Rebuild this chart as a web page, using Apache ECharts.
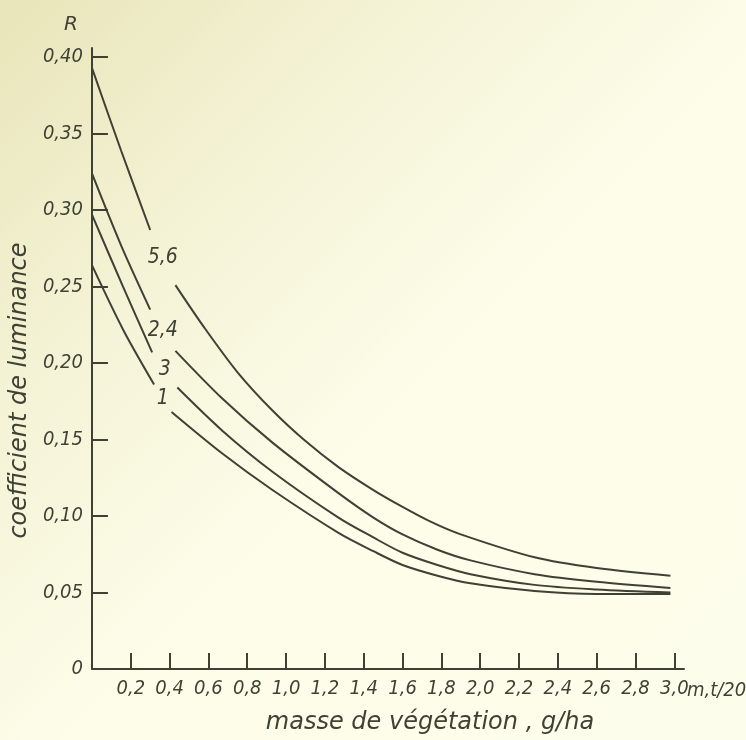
<!DOCTYPE html>
<html>
<head>
<meta charset="utf-8">
<script src="https://cdn.jsdelivr.net/npm/echarts@6/dist/echarts.min.js"></script>
<style>
  html, body { margin: 0; padding: 0; }
  #chart { width: 746px; height: 740px; }
</style>
</head>
<body>
<div id="chart"></div>
<script>
// curves: [masse, R], null = gap where the label sits
var curve56 = [[0, 0.393], [0.15, 0.339], [0.30, 0.287], null,
  [0.43, 0.251], [0.58, 0.223], [0.75, 0.194], [0.93, 0.169], [1.10, 0.149], [1.27, 0.132],
  [1.45, 0.117], [1.60, 0.106], [1.75, 0.096], [1.90, 0.088], [2.28, 0.073], [2.60, 0.066], [2.98, 0.061]];
var curve24 = [[0, 0.324], [0.15, 0.277], [0.30, 0.235], null,
  [0.43, 0.208], [0.67, 0.177], [0.93, 0.148], [1.27, 0.115], [1.45, 0.099], [1.60, 0.088],
  [1.78, 0.078], [1.95, 0.071], [2.28, 0.062], [2.60, 0.057], [2.98, 0.053]];
var curve3 = [[0, 0.297], [0.16, 0.250], [0.31, 0.207], null,
  [0.44, 0.184], [0.67, 0.156], [0.93, 0.129], [1.27, 0.099], [1.45, 0.086], [1.60, 0.076],
  [1.78, 0.068], [1.95, 0.062], [2.28, 0.055], [2.60, 0.052], [2.98, 0.050]];
var curve1 = [[0, 0.264], [0.16, 0.222], [0.32, 0.186], null,
  [0.41, 0.168], [0.67, 0.141], [0.93, 0.117], [1.27, 0.089], [1.45, 0.077], [1.60, 0.068],
  [1.78, 0.061], [1.95, 0.056], [2.28, 0.051], [2.60, 0.049], [2.98, 0.049]];
var curveNames = ['5,6', '2,4', '3', '1'];

var xTicks = [0.2, 0.4, 0.6, 0.8, 1.0, 1.2, 1.4, 1.6, 1.8, 2.0, 2.2, 2.4, 2.6, 2.8, 3.0];
var yTicks = [0, 0.05, 0.10, 0.15, 0.20, 0.25, 0.30, 0.35, 0.40];

var ink = '#3f4135';
var labelFont = "'Liberation Sans Narrow', 'DejaVu Sans Condensed', sans-serif";

function comma(v, d) {
  return v.toFixed(d).replace('.', ',');
}

// label goes in the middle of the gap
function gapMid(data) {
  var i = data.indexOf(null);
  var a = data[i - 1], b = data[i + 1];
  return [(a[0] + b[0]) / 2, (a[1] + b[1]) / 2];
}

var series = [curve56, curve24, curve3, curve1].map(function (d, k) {
  return {
    name: curveNames[k],
    type: 'line',
    data: d,
    smooth: 0.3,
    connectNulls: false,
    symbol: 'none',
    lineStyle: { color: ink, width: 2 },
    markPoint: {
      symbol: 'circle',
      symbolSize: 0,
      label: {
        show: true,
        formatter: curveNames[k],
        color: ink,
        fontFamily: labelFont,
        fontStyle: 'italic',
        fontSize: 21
      },
      data: [{ coord: gapMid(d) }]
    }
  };
});

var myChart = echarts.init(document.getElementById('chart'));
myChart.setOption({
  animation: false,
  backgroundColor: {
    type: 'linear', x: 0, y: 0, x2: 1, y2: 1,
    colorStops: [
      { offset: 0, color: '#e8e5b9' },
      { offset: 0.3, color: '#f5f4d8' },
      { offset: 0.55, color: '#fdfdea' },
      { offset: 1, color: '#fdfdeb' }
    ]
  },
  grid: { left: 89, right: 62, top: 48, bottom: 69 },
  xAxis: {
    type: 'value',
    min: 0,
    max: 3.05,
    name: 'masse de végétation , g/ha',
    nameLocation: 'middle',
    nameGap: 42,
    nameTextStyle: {
      color: ink, fontFamily: 'DejaVu Sans', fontStyle: 'italic', fontSize: 24,
      padding: [0, 0, 0, 84]
    },
    axisLine: { lineStyle: { color: ink, width: 2 } },
    axisTick: { inside: true, length: 16, customValues: xTicks, lineStyle: { color: ink, width: 2 } },
    splitLine: { show: false },
    axisLabel: {
      margin: 10,
      color: ink,
      fontFamily: labelFont,
      fontStyle: 'italic',
      fontSize: 20,
      customValues: xTicks,
      formatter: function (v) { return comma(v, 1); }
    }
  },
  yAxis: {
    type: 'value',
    min: 0,
    max: 0.406,
    name: 'coefficient de luminance',
    nameLocation: 'middle',
    nameGap: 58,
    nameTextStyle: {
      color: ink, fontFamily: 'DejaVu Sans', fontStyle: 'italic', fontSize: 24,
      padding: [0, 64, 0, 0]
    },
    axisLine: { show: true, lineStyle: { color: ink, width: 2 } },
    axisTick: { show: true, inside: true, length: 16, customValues: yTicks, lineStyle: { color: ink, width: 2 } },
    splitLine: { show: false },
    axisLabel: {
      margin: 9,
      color: ink,
      fontFamily: labelFont,
      fontStyle: 'italic',
      fontSize: 20,
      customValues: yTicks,
      formatter: function (v) { return v === 0 ? '0' : comma(v, 2); }
    }
  },
  graphic: [
    {
      type: 'text', left: 64, top: 15,
      style: { text: 'R', fill: ink, font: "italic 20px 'DejaVu Sans'" }
    },
    {
      type: 'text', left: 687, top: 681,
      style: { text: 'm,t/20', fill: ink, font: "italic 20px " + labelFont }
    }
  ],
  series: series
});
</script>
</body>
</html>
